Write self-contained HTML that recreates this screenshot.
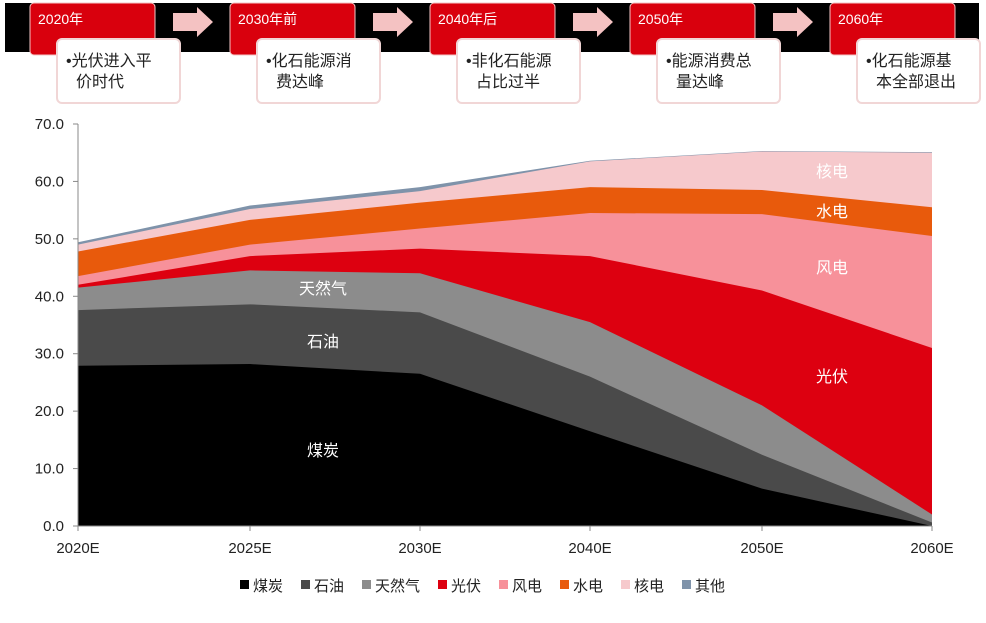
<!DOCTYPE html>
<html><head><meta charset="utf-8"><style>
body{margin:0;background:#fff;width:986px;height:618px;overflow:hidden;font-family:"Liberation Sans","Noto Sans CJK SC",sans-serif;}
</style></head><body>
<svg id="s" width="986" height="618" xmlns="http://www.w3.org/2000/svg" font-family="Liberation Sans, Noto Sans CJK SC, sans-serif">
<rect x="5" y="3" width="974" height="49" fill="#000"/>
<g id="banner"></g>
<g id="chart"></g>
</svg>
<script>
const NS="http://www.w3.org/2000/svg";
function el(p,t,a,txt){const e=document.createElementNS(NS,t);for(const k in a)e.setAttribute(k,a[k]);if(txt!==undefined)e.textContent=txt;p.appendChild(e);return e;}
const b=document.getElementById('banner');
const yrs=["2020年","2030年前","2040年后","2050年","2060年"];
const tx=[["光伏进入平","价时代"],["化石能源消","费达峰"],["非化石能源","占比过半"],["能源消费总","量达峰"],["化石能源基","本全部退出"]];
for(let i=0;i<5;i++){const x=30+i*200;
el(b,'rect',{x:x,y:3,width:125,height:52,rx:4,fill:'#d9000d',stroke:'#f3c6c6','stroke-width':1});
el(b,'text',{x:x+8,y:24,fill:'#fff','font-size':14},yrs[i]);
el(b,'rect',{x:x+27,y:39,width:123,height:64,rx:5,fill:'#fff',stroke:'#f1d6d6','stroke-width':2});
el(b,'text',{x:x+36,y:66,fill:'#222','font-size':16},'•'+tx[i][0]);
el(b,'text',{x:x+46,y:87,fill:'#222','font-size':16},tx[i][1]);
if(i<4){const a=x+143;el(b,'polygon',{points:`${a},13 ${a+24},13 ${a+24},7 ${a+40},22 ${a+24},37 ${a+24},31 ${a},31`,fill:'#f4c2c2'});}
}
const c=document.getElementById('chart');
const X=[78,250,420,590,762,932];
const Y=v=>526-v*5.743;
const tops=[
[27.9,28.2,26.5,16.5,6.5,0],
[37.6,38.6,37.2,26,12.4,0.6],
[41.5,44.5,44,35.5,21,2],
[42,47,48.3,47,41,31],
[43.5,49,51.8,54.5,54.3,50.5],
[47.8,53.3,56.3,59,58.5,55.5],
[49,55.2,58.3,63.5,65.2,65],
[49.4,55.8,59,63.6,65.3,65.1]];
const cols=['#000','#4a4a4a','#8c8c8c','#dd0010','#f7919a','#e85a0c','#f6c9cc','#7f93aa'];
for(let s=7;s>=0;s--){let pts=X.map((x,i)=>x+','+Y(tops[s][i])).join(' ');pts+=' 932,526 78,526';el(c,'polygon',{points:pts,fill:cols[s]});}
el(c,'line',{x1:78,y1:124,x2:78,y2:526,stroke:'#888'});
el(c,'line',{x1:78,y1:526,x2:932,y2:526,stroke:'#888'});
for(let v=0;v<=70;v+=10){el(c,'line',{x1:73,y1:Y(v),x2:78,y2:Y(v),stroke:'#888'});el(c,'text',{x:64,y:Y(v)+5,'text-anchor':'end','font-size':15,fill:'#222'},v.toFixed(1));}
const xl=["2020E","2025E","2030E","2040E","2050E","2060E"];
X.forEach((x,i)=>{el(c,'line',{x1:x,y1:526,x2:x,y2:531,stroke:'#888'});el(c,'text',{x:x,y:553,'text-anchor':'middle','font-size':15,fill:'#222'},xl[i]);});
[["天然气",323,294],["石油",323,347],["煤炭",323,456],["光伏",832,382],["风电",832,273],["水电",832,217],["核电",832,177]].forEach(a=>el(c,'text',{x:a[1],y:a[2],'text-anchor':'middle','font-size':16,fill:'#fff'},a[0]));
const lg=["煤炭","石油","天然气","光伏","风电","水电","核电","其他"];
let lx=240;lg.forEach((n,i)=>{el(c,'rect',{x:lx,y:580,width:9,height:9,fill:cols[i]});el(c,'text',{x:lx+13,y:591,'font-size':15,fill:'#222'},n);lx+=13+n.length*15+18;});
</script>
</body></html>
